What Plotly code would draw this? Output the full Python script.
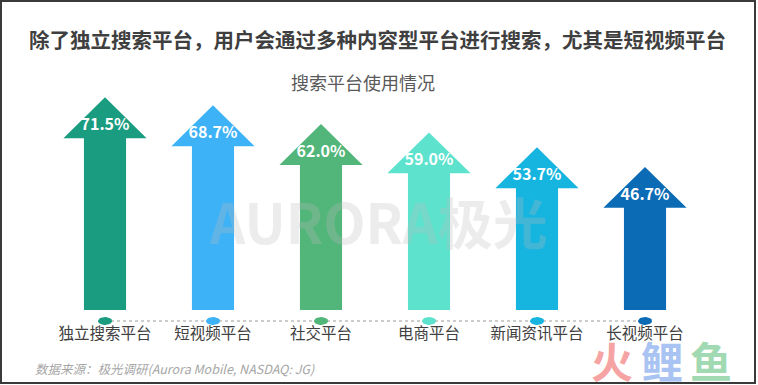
import numpy as np
import plotly.graph_objects as go

# ---------------- data ----------------
categories = ["独立搜索平台", "短视频平台", "社交平台", "电商平台", "新闻资讯平台", "长视频平台"]
values = [71.5, 68.7, 62.0, 59.0, 53.7, 46.7]
value_labels = ["71.5%", "68.7%", "62.0%", "59.0%", "53.7%", "46.7%"]
colors = ["#1a9c80", "#3db2f7", "#52b57a", "#5de2cd", "#16b5e0", "#0b6bb5"]

title_text = "除了独立搜索平台，用户会通过多种内容型平台进行搜索，尤其是短视频平台"
subtitle_text = "搜索平台使用情况"
source_text = "数据来源：极光调研(Aurora Mobile, NASDAQ: JG)"
logo_chars = ["火", "鲤", "鱼"]
logo_colors = ["#f5a3a3", "#a9c3f2", "#a0d9b2"]

# ---------------- style ----------------
W, H = 758, 385
FONT = "Noto Sans CJK SC"
base = -4.3          # arrow foot (data units)
shaft_half = 0.195   # x units
head_half = 0.385    # x units
head_h = 14.6        # y units
label_drop = 10.3    # value label below tip
dot_y = -8.24
dot_rx, dot_ry = 0.065, 1.43
cat_y = -13.2

fig = go.Figure()

# dashed guide line
fig.add_trace(go.Scatter(
    x=[0, len(categories) - 1], y=[dot_y, dot_y], mode="lines",
    line=dict(color="#9a9a9a", width=1, dash="3px,3px"),
    hoverinfo="skip", showlegend=False))

t = np.linspace(0, 2 * np.pi, 30)
for i, (v, c) in enumerate(zip(values, colors)):
    xs = [i - shaft_half, i - shaft_half, i - head_half, i, i + head_half,
          i + shaft_half, i + shaft_half, i - shaft_half]
    ys = [base, v - head_h, v - head_h, v, v - head_h, v - head_h, base, base]
    fig.add_trace(go.Scatter(x=xs, y=ys, mode="lines", fill="toself",
                             fillcolor=c, line=dict(width=0, color=c),
                             hoverinfo="skip", showlegend=False))
    # dot
    fig.add_trace(go.Scatter(x=i + dot_rx * np.cos(t), y=dot_y + dot_ry * np.sin(t),
                             mode="lines", fill="toself", fillcolor=c,
                             line=dict(width=0, color=c),
                             hoverinfo="skip", showlegend=False))

# value labels
fig.add_trace(go.Scatter(
    x=list(range(len(values))), y=[v - label_drop for v in values],
    mode="text", text=value_labels, textposition="middle center",
    textfont=dict(family=FONT, size=16, color="white", weight="bold"),
    hoverinfo="skip", showlegend=False))

# category labels
fig.add_trace(go.Scatter(
    x=list(range(len(categories))), y=[cat_y] * len(categories),
    mode="text", text=categories, textposition="middle center",
    textfont=dict(family=FONT, size=15.5, color="#404040"),
    hoverinfo="skip", showlegend=False))

def py(px):
    return (H - px) / H

annotations = [
    dict(text=title_text, x=377 / W, y=py(39), xref="paper", yref="paper",
         showarrow=False, xanchor="center", yanchor="middle",
         font=dict(family=FONT, size=20.5, color="#3f3f3f", weight="bold")),
    dict(text=subtitle_text, x=363 / W, y=py(82), xref="paper", yref="paper",
         showarrow=False, xanchor="center", yanchor="middle",
         font=dict(family=FONT, size=18, color="#595959")),
    dict(text=source_text, x=33 / W, y=py(368), xref="paper", yref="paper",
         showarrow=False, xanchor="left", yanchor="middle",
         font=dict(family=FONT, size=12.5, color="#a6a6a6", style="italic")),
    dict(text="AURORA极光", x=378 / W, y=py(220), xref="paper", yref="paper",
         showarrow=False, xanchor="center", yanchor="middle",
         font=dict(family=FONT, size=55, color="rgba(185,185,185,0.28)", weight="bold")),
]
for k, (ch, col) in enumerate(zip(logo_chars, logo_colors)):
    annotations.append(dict(
        text=ch, x=(612 + 49.5 * k) / W, y=py(359), xref="paper", yref="paper",
        showarrow=False, xanchor="center", yanchor="middle",
        font=dict(family=FONT, size=42, color=col, weight="bold")))

fig.update_layout(
    width=W, height=H,
    margin=dict(l=0, r=0, t=0, b=0),
    paper_bgcolor="white", plot_bgcolor="white",
    xaxis=dict(range=[-0.5, 5.5], domain=[51 / W, 699 / W], visible=False, fixedrange=True),
    yaxis=dict(range=[-20, 80], domain=[py(354.0), py(73.5)], visible=False, fixedrange=True),
    annotations=annotations,
    shapes=[dict(type="rect", xref="paper", yref="paper",
                 x0=1 / W, x1=755 / W, y0=py(383), y1=py(1),
                 line=dict(color="#3a3a3a", width=2), fillcolor="rgba(0,0,0,0)",
                 layer="above")],
    hovermode=False,
)

fig.write_html("out.html", config={"displayModeBar": False},
               post_script="document.body.style.margin='0';document.body.style.overflow='hidden';")
